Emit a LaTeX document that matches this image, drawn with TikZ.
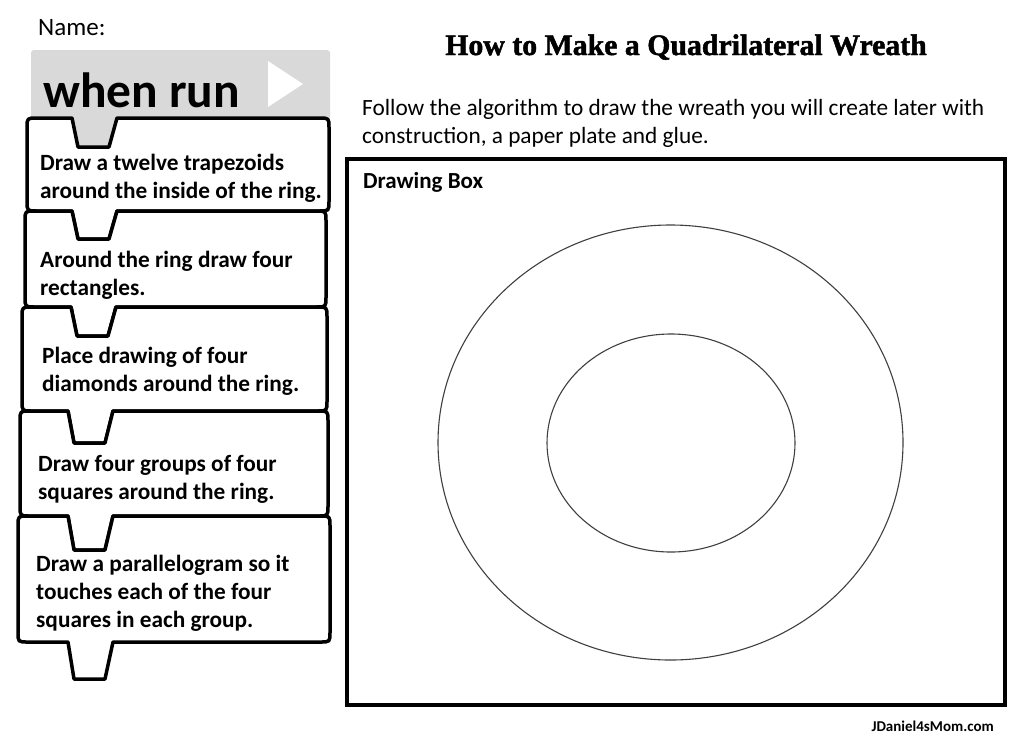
\documentclass[tikz,border=0pt]{standalone}
\usepackage{fontspec}
\setmainfont{Carlito}
\newfontfamily\titlefont{Liberation Serif Bold}[FakeBold=1.6]
\definecolor{hatgray}{HTML}{D9D9D9}
\newcommand\puzzleblock[8]{% L R T B n0 Dt Db tabx
  \draw[blockline] (#1,#3+10) .. controls (#1,#3) .. (#1+10,#3) -- (#5,#3) -- (#5+6,#3+#6) -- (#5+37,#3+#6) -- (#5+45,#3)
   -- (#2-10,#3) .. controls (#2,#3) .. (#2,#3+10) -- (#2,#4-10) .. controls (#2,#4) .. (#2-10,#4)
   -- (#8+45,#4) -- (#8+37,#4+#7) -- (#8+6,#4+#7) -- (#8,#4) -- (#1+10,#4) .. controls (#1,#4) .. (#1,#4-10) -- cycle;}
\tikzset{
  blockline/.style={draw=black, fill=white, line width=3.5pt, line join=round},
  steptext/.style={anchor=base west, inner sep=0pt, font=\bfseries\fontsize{23.3}{28}\selectfont},
  plain/.style={anchor=base west, inner sep=0pt, font=\fontsize{23.3}{28}\selectfont},
}
\begin{document}
\begin{tikzpicture}[x=1pt,y=-1pt]
\useasboundingbox (0,0) rectangle (1024,745);
\fill[white] (0,0) rectangle (1024,745);

% name
\node[anchor=base west, inner sep=0pt, font=\fontsize{25}{30}\selectfont] (name) at (38,35) {Name:};

% hat block
\fill[hatgray, rounded corners=3pt] (31,50) rectangle (330,150);
\node[anchor=base west, inner sep=0pt, font=\bfseries\fontsize{49.5}{55}\selectfont] (whenrun) at (43,107) {when run};
\fill[white] (268,61) -- (268,107) -- (303,84) -- cycle;

% blocks
\puzzleblock{27}{329}{118}{211}{72}{29}{28}{72}
\puzzleblock{25}{326}{211}{307}{72}{28}{29}{71}
\puzzleblock{22}{327}{307}{411}{71}{29}{32}{68}
\puzzleblock{20}{328}{411}{516}{68}{32}{34}{68}
\puzzleblock{18}{330}{516}{642}{68}{34}{37}{68}

\node[steptext] (s1a) at (40,170) {Draw a twelve trapezoids};
\node[steptext] (s1b) at (40,198) {around the inside of the ring.};
\node[steptext] (s2a) at (40,267) {Around the ring draw four};
\node[steptext] (s2b) at (40,295) {rectangles.};
\node[steptext] (s3a) at (42,363) {Place drawing of four};
\node[steptext] (s3b) at (42,391) {diamonds around the ring.};
\node[steptext] (s4a) at (38,471) {Draw four groups of four};
\node[steptext] (s4b) at (38,499) {squares around the ring.};
\node[steptext] (s5a) at (36,571) {Draw a parallelogram so it};
\node[steptext] (s5b) at (36,599) {touches each of the four};
\node[steptext] (s5c) at (36,627) {squares in each group.};

% title and instructions
\node[anchor=base, inner sep=0pt, font=\titlefont\fontsize{29.8}{34}\selectfont] (title) at (686,55) {How to Make a Quadrilateral Wreath};
\node[plain] (inst1) at (362,115) {Follow the algorithm to draw the wreath you will create later with};
\node[plain] (inst2) at (362,143) {construction, a paper plate and glue.};

% drawing box
\draw[line width=4pt] (347,159) rectangle (1005,705);
\node[anchor=base west, inner sep=0pt, font=\bfseries\fontsize{23}{27}\selectfont] (dbox) at (363,188) {Drawing Box};
\draw[line width=1.1pt, black!75] (670.5,442.5) ellipse [x radius=232.5, y radius=217.5];
\draw[line width=1.1pt, black!75] (671,443) ellipse [x radius=124, y radius=109];

% footer
\node[anchor=base east, inner sep=0pt, font=\bfseries\fontsize{15}{18}\selectfont] (foot) at (994,731) {JDaniel4sMom.com};
\end{tikzpicture}
\end{document}
